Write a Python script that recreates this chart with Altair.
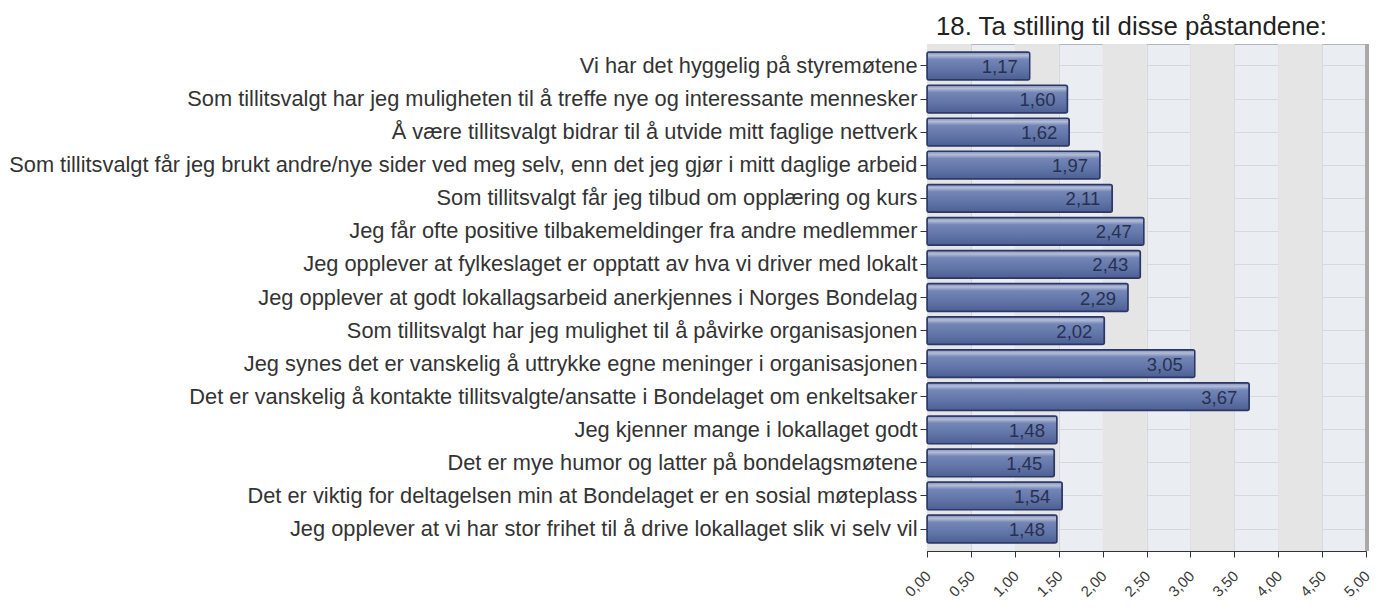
import altair as alt
import pandas as pd

categories = [
    "Vi har det hyggelig på styremøtene",
    "Som tillitsvalgt har jeg muligheten til å treffe nye og interessante mennesker",
    "Å være tillitsvalgt bidrar til å utvide mitt faglige nettverk",
    "Som tillitsvalgt får jeg brukt andre/nye sider ved meg selv, enn det jeg gjør i mitt daglige arbeid",
    "Som tillitsvalgt får jeg tilbud om opplæring og kurs",
    "Jeg får ofte positive tilbakemeldinger fra andre medlemmer",
    "Jeg opplever at fylkeslaget er opptatt av hva vi driver med lokalt",
    "Jeg opplever at godt lokallagsarbeid anerkjennes i Norges Bondelag",
    "Som tillitsvalgt har jeg mulighet til å påvirke organisasjonen",
    "Jeg synes det er vanskelig å uttrykke egne meninger i organisasjonen",
    "Det er vanskelig å kontakte tillitsvalgte/ansatte i Bondelaget om enkeltsaker",
    "Jeg kjenner mange i lokallaget godt",
    "Det er mye humor og latter på bondelagsmøtene",
    "Det er viktig for deltagelsen min at Bondelaget er en sosial møteplass",
    "Jeg opplever at vi har stor frihet til å drive lokallaget slik vi selv vil",
]
values = [1.17, 1.60, 1.62, 1.97, 2.11, 2.47, 2.43, 2.29, 2.02, 3.05, 3.67, 1.48, 1.45, 1.54, 1.48]

band_starts = [0.0, 1.0, 2.0, 3.0, 4.0]
band_ends = [0.5, 1.5, 2.5, 3.5, 4.5]
x_ticks = [0, 0.5, 1, 1.5, 2, 2.5, 3, 3.5, 4, 4.5, 5]

W, H = 439, 507
FONT = "Liberation Sans"

df = pd.DataFrame({"cat": categories, "value": values})
bands = pd.DataFrame({"a": band_starts, "b": band_ends})

xscale = alt.Scale(domain=[0, 5], nice=False, zero=True)
xaxis = alt.Axis(
    values=x_ticks,
    labelExpr="replace(format(datum.value, '.2f'), '.', ',')",
    labelAngle=-45,
    labelAlign="right",
    labelBaseline="top",
    labelFont=FONT,
    labelFontSize=15,
    labelColor="#3a3a3a",
    labelPadding=11,
    labelOffset=-4,
    tickColor="#333333",
    tickSize=6,
    domainColor="#333333",
    grid=True,
    gridColor="#d4d6da",
    labelOverlap=False,
)

bg = alt.Chart(bands).mark_rect(color="#e5e5e6").encode(
    x=alt.X("a:Q", scale=xscale, axis=xaxis, title=None),
    x2="b:Q",
    y=alt.value(0),
    y2=alt.value(H),
)

ysc = alt.Scale(domain=categories, paddingInner=0.16, paddingOuter=0.245)

gradient = alt.Gradient(
    gradient="linear",
    stops=[
        alt.GradientStop(color="#7d8dbb", offset=0),
        alt.GradientStop(color="#b4bdd6", offset=0.12),
        alt.GradientStop(color="#7486b6", offset=0.26),
        alt.GradientStop(color="#6074a8", offset=0.65),
        alt.GradientStop(color="#4d5f92", offset=1),
    ],
    x1=0, x2=0, y1=0, y2=1,
)

bars = alt.Chart(df).mark_bar(
    color=gradient, stroke="#2b3767", strokeWidth=1.5, cornerRadius=2
).encode(
    x=alt.X("value:Q", scale=xscale, axis=xaxis, title=None),
    y=alt.Y(
        "cat:N",
        scale=ysc,
        sort=categories,
        title=None,
        axis=alt.Axis(
            labelFont=FONT,
            labelFontSize=21.8,
            labelColor="#333333",
            labelLimit=1000,
            labelPadding=3,
            tickColor="#333333",
            tickSize=7,
            domainColor="#333333",
            grid=True,
            gridColor="#d6d8dc",
            bandPosition=0.5,
        ),
    ),
)

labels = alt.Chart(df).transform_calculate(
    lab="replace(format(datum.value, '.2f'), '.', ',')"
).mark_text(
    align="right", baseline="middle", dx=-12, dy=1, font=FONT, fontSize=18.5, color="#283050"
).encode(
    x=alt.X("value:Q", scale=xscale),
    y=alt.Y("cat:N", scale=ysc, sort=categories),
    text="lab:N",
)

edge = alt.Chart(df).mark_rule(color="#a9a9a9", strokeWidth=3).encode(
    x=alt.value(W + 1), y=alt.value(0), y2=alt.value(H)
)

chart = alt.layer(bg, bars, labels, edge).properties(
    width=W,
    height=H,
    title=alt.TitleParams(
        "18. Ta stilling til disse påstandene:",
        font=FONT,
        fontSize=25.8,
        fontWeight="normal",
        color="#222222",
        anchor="middle",
        offset=2,
        dx=-15,
    ),
    background="white",
    autosize=alt.AutoSizeParams(type="none"),
    padding={"left": 919, "top": 36, "right": 7, "bottom": 50},
).configure_view(
    fill="#eaedf1", stroke="#b5b5b5", strokeWidth=1
).configure_axis(
    gridWidth=1
)

chart.save("out.html", embed_options={"renderer": "svg", "actions": False})
